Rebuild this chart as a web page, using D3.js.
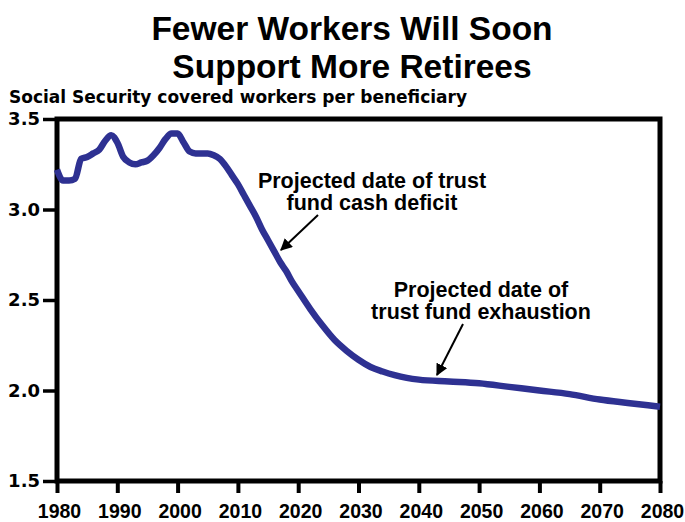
<!DOCTYPE html>
<html>
<head>
<meta charset="utf-8">
<script src="https://cdn.jsdelivr.net/npm/d3@7"></script>
<style>
  html, body { margin: 0; padding: 0; background: #fff; }
  svg { display: block; }
</style>
</head>
<body>
<svg id="chart" width="685" height="522"></svg>
<script>
// Workers per Social Security beneficiary, historical and projected
const years = [
  1980, 1981, 1982, 1983, 1984, 1985, 1986, 1987, 1988, 1989,
  1990, 1991, 1992, 1993, 1994, 1995, 1996, 1997, 1998, 1999,
  2000, 2001, 2002, 2003, 2004, 2005, 2006, 2007, 2008, 2009,
  2010, 2011, 2012, 2013, 2014, 2015, 2016, 2017, 2018, 2019,
  2020, 2022, 2024, 2026, 2028, 2030, 2032, 2034, 2036, 2038,
  2040, 2045, 2050, 2055, 2060, 2065, 2070, 2075, 2080
];
const workersPerBeneficiary = [
  3.22, 3.16, 3.16, 3.17, 3.28, 3.29, 3.31, 3.33, 3.38, 3.41,
  3.37, 3.29, 3.26, 3.25, 3.26, 3.27, 3.30, 3.34, 3.39, 3.42,
  3.42, 3.37, 3.32, 3.31, 3.31, 3.31, 3.30, 3.28, 3.24, 3.19,
  3.14, 3.08, 3.02, 2.96, 2.89, 2.83, 2.77, 2.71, 2.66, 2.60,
  2.55, 2.45, 2.36, 2.28, 2.22, 2.17, 2.13, 2.105, 2.085, 2.07,
  2.06, 2.05, 2.04, 2.02, 2.00, 1.98, 1.95, 1.93, 1.91
];

const xTicks = [1980, 1990, 2000, 2010, 2020, 2030, 2040, 2050, 2060, 2070, 2080];
const yTicks = [1.5, 2.0, 2.5, 3.0, 3.5];

const titleLines = ["Fewer Workers Will Soon", "Support More Retirees"];
const subtitle = "Social Security covered workers per beneficiary";
const deficitNote = ["Projected date of trust", "fund cash deficit"];
const exhaustionNote = ["Projected date of", "trust fund exhaustion"];

const svg = d3.select("#chart");
const sans = "'Liberation Sans', Arial, Helvetica, sans-serif";
const wide = "'DejaVu Sans', Verdana, sans-serif";

const x = d3.scaleLinear().domain([1980, 2080]).range([57, 660]);
const y = d3.scaleLinear().domain([1.5, 3.5]).range([481, 119]);

// Title, two centred lines
svg.append("g").selectAll("text").data(titleLines).join("text")
  .attr("x", 352)
  .attr("y", (d, i) => 40 + i * 37.5)
  .attr("text-anchor", "middle")
  .attr("font-family", sans)
  .attr("font-weight", "bold")
  .attr("font-size", 33.5)
  .attr("fill", "#000")
  .text(d => d);

// Units label above the plot
svg.append("text")
  .attr("x", 9)
  .attr("y", 103)
  .attr("font-family", wide)
  .attr("font-weight", "bold")
  .attr("font-size", 17)
  .attr("fill", "#000")
  .text(subtitle);

// Axes
const yAxis = d3.axisLeft(y).tickValues(yTicks).tickFormat(d3.format(".1f"))
  .tickSize(14).tickPadding(3);
const gy = svg.append("g").attr("transform", `translate(${x.range()[0]},0)`).call(yAxis);
gy.select(".domain").remove();
gy.selectAll(".tick line").attr("stroke", "#000").attr("stroke-width", 3.5);
gy.selectAll(".tick text")
  .attr("font-family", wide).attr("font-weight", "bold").attr("font-size", 18)
  .attr("fill", "#000");

const xAxis = d3.axisBottom(x).tickValues(xTicks).tickFormat(d3.format("d"))
  .tickSize(12).tickPadding(11);
const gx = svg.append("g").attr("transform", `translate(0,${y.range()[0]})`).call(xAxis);
gx.select(".domain").remove();
gx.selectAll(".tick line").attr("stroke", "#000").attr("stroke-width", 4);
gx.selectAll(".tick text")
  .attr("font-family", sans).attr("font-weight", "bold").attr("font-size", 19.5)
  .attr("dx", 2)
  .attr("fill", "#000");

// Plot frame
svg.append("rect")
  .attr("x", x.range()[0])
  .attr("y", y.range()[1])
  .attr("width", x.range()[1] - x.range()[0])
  .attr("height", y.range()[0] - y.range()[1])
  .attr("fill", "none")
  .attr("stroke", "#000")
  .attr("stroke-width", 5);

// Ratio line
const line = d3.line()
  .x((d, i) => x(years[i]))
  .y(d => y(d))
  .curve(d3.curveMonotoneX);

svg.append("path")
  .datum(workersPerBeneficiary)
  .attr("d", line)
  .attr("fill", "none")
  .attr("stroke", "#2e3192")
  .attr("stroke-width", 6.5)
  .attr("stroke-linejoin", "round")
  .attr("stroke-linecap", "butt");

// Arrowhead marker
svg.append("defs").append("marker")
  .attr("id", "arrowhead")
  .attr("viewBox", "0 0 10 10")
  .attr("refX", 9).attr("refY", 5)
  .attr("markerWidth", 6).attr("markerHeight", 6)
  .attr("markerUnits", "strokeWidth")
  .attr("orient", "auto")
  .append("path")
  .attr("d", "M0,0 L10,5 L0,10 Z")
  .attr("fill", "#000");

function annotate(lines, cx, baseline, from, to) {
  svg.append("text")
    .attr("text-anchor", "middle")
    .attr("font-family", sans)
    .attr("font-weight", "bold")
    .attr("font-size", 21.5)
    .attr("fill", "#000")
    .selectAll("tspan").data(lines).join("tspan")
    .attr("x", cx)
    .attr("y", (d, i) => baseline + i * 22)
    .text(d => d);
  svg.append("line")
    .attr("x1", from[0]).attr("y1", from[1])
    .attr("x2", to[0]).attr("y2", to[1])
    .attr("stroke", "#000")
    .attr("stroke-width", 2)
    .attr("marker-end", "url(#arrowhead)");
}

annotate(deficitNote, 372, 188, [318, 215], [281, 250]);
annotate(exhaustionNote, 481, 297, [463, 324], [437, 375]);
</script>
</body>
</html>
